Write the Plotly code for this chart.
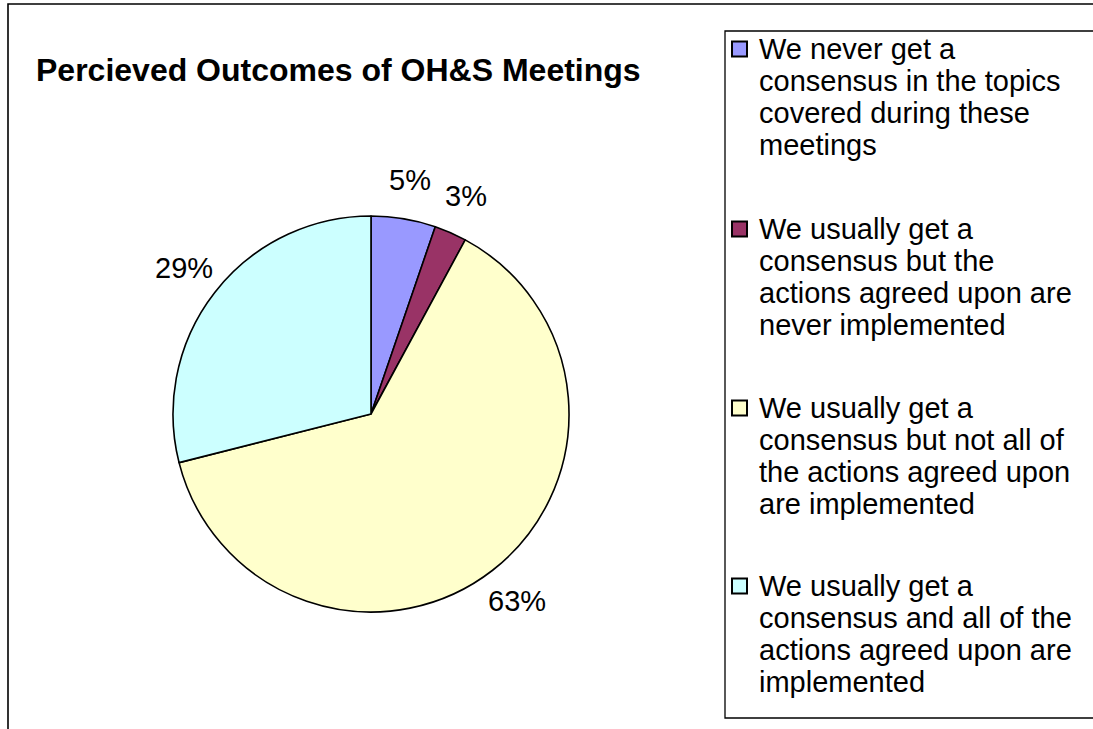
import math
import plotly.graph_objects as go

# ---- data ----
categories = [
    "We never get a consensus in the topics covered during these meetings",
    "We usually get a consensus but the actions agreed upon are never implemented",
    "We usually get a consensus but not all of the actions agreed upon are implemented",
    "We usually get a consensus and all of the actions agreed upon are implemented",
]
# legend text wrapped as in the original
legend_lines = [
    ["We never get a", "consensus in the topics", "covered during these", "meetings"],
    ["We usually get a", "consensus but the", "actions agreed upon are", "never implemented"],
    ["We usually get a", "consensus but not all of", "the actions agreed upon", "are implemented"],
    ["We usually get a", "consensus and all of the", "actions agreed upon are", "implemented"],
]
counts = [2, 1, 24, 11]
colors = ["#9999FF", "#993366", "#FFFFCC", "#CCFFFF"]
title_text = "Percieved Outcomes of OH&S Meetings"

W, H = 1093, 729
FONT = "Liberation Sans, Arial, sans-serif"
FS = 29

# pie geometry (pixels)
cx_px, cy_px, R = 371, 414, 198


def px(x):
    return x / W


def py(y):
    return 1 - y / H


fig = go.Figure()
fig.add_trace(go.Pie(
    labels=categories,
    values=counts,
    sort=False,
    direction="clockwise",
    rotation=0,
    marker=dict(colors=colors, line=dict(color="black", width=1.6)),
    textinfo="none",
    hoverinfo="label+percent",
    showlegend=False,
    domain=dict(x=[px(cx_px - R), px(cx_px + R)],
                y=[py(cy_px + R), py(cy_px - R)]),
))

annotations = []
shapes = []

# percentage labels placed outside at slice mid-angles
total = sum(counts)
cum = 0
for v in counts:
    mid = (cum + v / 2) / total * 2 * math.pi
    cum += v
    r = R * 1.2
    x = cx_px + r * math.sin(mid)
    y = cy_px - r * math.cos(mid)
    annotations.append(dict(
        x=px(x), y=py(y), xref="paper", yref="paper",
        text=f"{round(v / total * 100)}%", showarrow=False,
        font=dict(family=FONT, size=FS, color="black"),
        xanchor="center", yanchor="middle",
    ))

# title
annotations.append(dict(
    x=px(34), y=py(70), xref="paper", yref="paper",
    text="<b>" + title_text + "</b>", showarrow=False,
    font=dict(family=FONT, size=32, color="black"),
    xanchor="left", yanchor="middle",
))

# legend (box, swatches, wrapped text)
item_top = [49, 229, 408, 586]
line_h = 32
for i, lines in enumerate(legend_lines):
    y0 = item_top[i]
    shapes.append(dict(type="rect", xref="paper", yref="paper",
                       x0=px(732), x1=px(747), y0=py(y0 + 7.5), y1=py(y0 - 7.5),
                       fillcolor=colors[i], line=dict(color="black", width=2)))
    for j, t in enumerate(lines):
        annotations.append(dict(
            x=px(757), y=py(y0 + j * line_h), xref="paper", yref="paper",
            text=t, showarrow=False,
            font=dict(family=FONT, size=FS, color="black"),
            xanchor="left", yanchor="middle",
        ))

# outer chart border and legend box
shapes.insert(0, dict(type="rect", xref="paper", yref="paper",
                      x0=px(8), x1=1.2, y0=-0.2, y1=py(4),
                      line=dict(color="black", width=1.6), layer="below"))
shapes.insert(1, dict(type="rect", xref="paper", yref="paper",
                      x0=px(725), x1=1.2, y0=py(718), y1=py(31),
                      line=dict(color="black", width=1.3), layer="below"))

fig.update_layout(
    width=W, height=H,
    margin=dict(l=0, r=0, t=0, b=0),
    paper_bgcolor="white",
    plot_bgcolor="white",
    showlegend=False,
    annotations=annotations,
    shapes=shapes,
)

fig.write_html(
    "out.html",
    config={"displayModeBar": False},
    post_script="document.body.style.margin='0';document.body.style.overflow='hidden';",
)
